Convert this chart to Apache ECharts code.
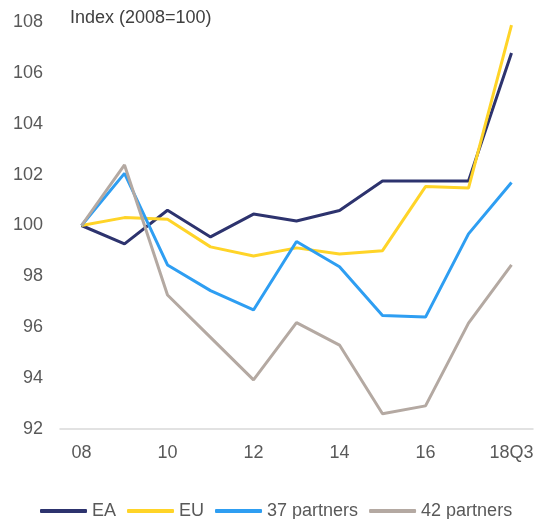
<!DOCTYPE html>
<html><head><meta charset="utf-8">
<script src="https://cdn.jsdelivr.net/npm/echarts@6/dist/echarts.min.js"></script>
<style>html,body{margin:0;padding:0;background:#fff}#c{width:539px;height:519px}</style>
</head><body><div id="c"></div>
<script>
const categories = ['08','09','10','11','12','13','14','15','16','17','18Q3'];
const ea = [100, 99.28, 100.6, 99.55, 100.45, 100.18, 100.59, 101.75, 101.75, 101.75, 106.78];
const eu = [100, 100.31, 100.25, 99.16, 98.8, 99.12, 98.88, 99.01, 101.53, 101.47, 107.88];
const p37 = [100, 102.05, 98.45, 97.44, 96.68, 99.37, 98.38, 96.46, 96.4, 99.67, 101.69];
const p42 = [100, 102.38, 97.27, 95.6, 93.93, 96.18, 95.3, 92.6, 92.91, 96.16, 98.45];
const yTicks = {min: 92, max: 108, interval: 2};

const chart = echarts.init(document.getElementById('c'));
const mk = (name, data, color) => ({
  name, type: 'line', data, symbol: 'none', smooth: false,
  lineStyle: {width: 3, color}, itemStyle: {color}
});
chart.setOption({
  animation: false,
  textStyle: {fontFamily: 'Liberation Sans, Arial, sans-serif'},
  title: {text: 'Index (2008=100)', left: 65, top: 4,
    textStyle: {fontSize: 18, fontWeight: 'normal', color: '#404040', fontFamily: 'Liberation Sans, Arial, sans-serif'}},
  grid: {left: 60, right: 6, top: 22, bottom: 90},
  xAxis: {type: 'category', data: categories, boundaryGap: true,
    axisLine: {lineStyle: {color: '#d9d9d9', width: 1.5}},
    axisTick: {show: false},
    axisLabel: {interval: 1, fontSize: 18, color: '#595959', margin: 15}},
  yAxis: {type: 'value', min: yTicks.min, max: yTicks.max, interval: yTicks.interval,
    splitLine: {show: false}, axisLine: {show: false}, axisTick: {show: false},
    axisLabel: {fontSize: 18, color: '#595959', margin: 17}},
  legend: {top: 497, left: 35, itemWidth: 47, itemHeight: 4, itemGap: 11,
    icon: 'roundRect',
    textStyle: {fontSize: 18, color: '#595959'}},
  series: [
    mk('EA', ea, '#2d336e'),
    mk('EU', eu, '#ffd428'),
    mk('37 partners', p37, '#2e9ef2'),
    mk('42 partners', p42, '#b4a9a2')
  ]
});
</script></body></html>
